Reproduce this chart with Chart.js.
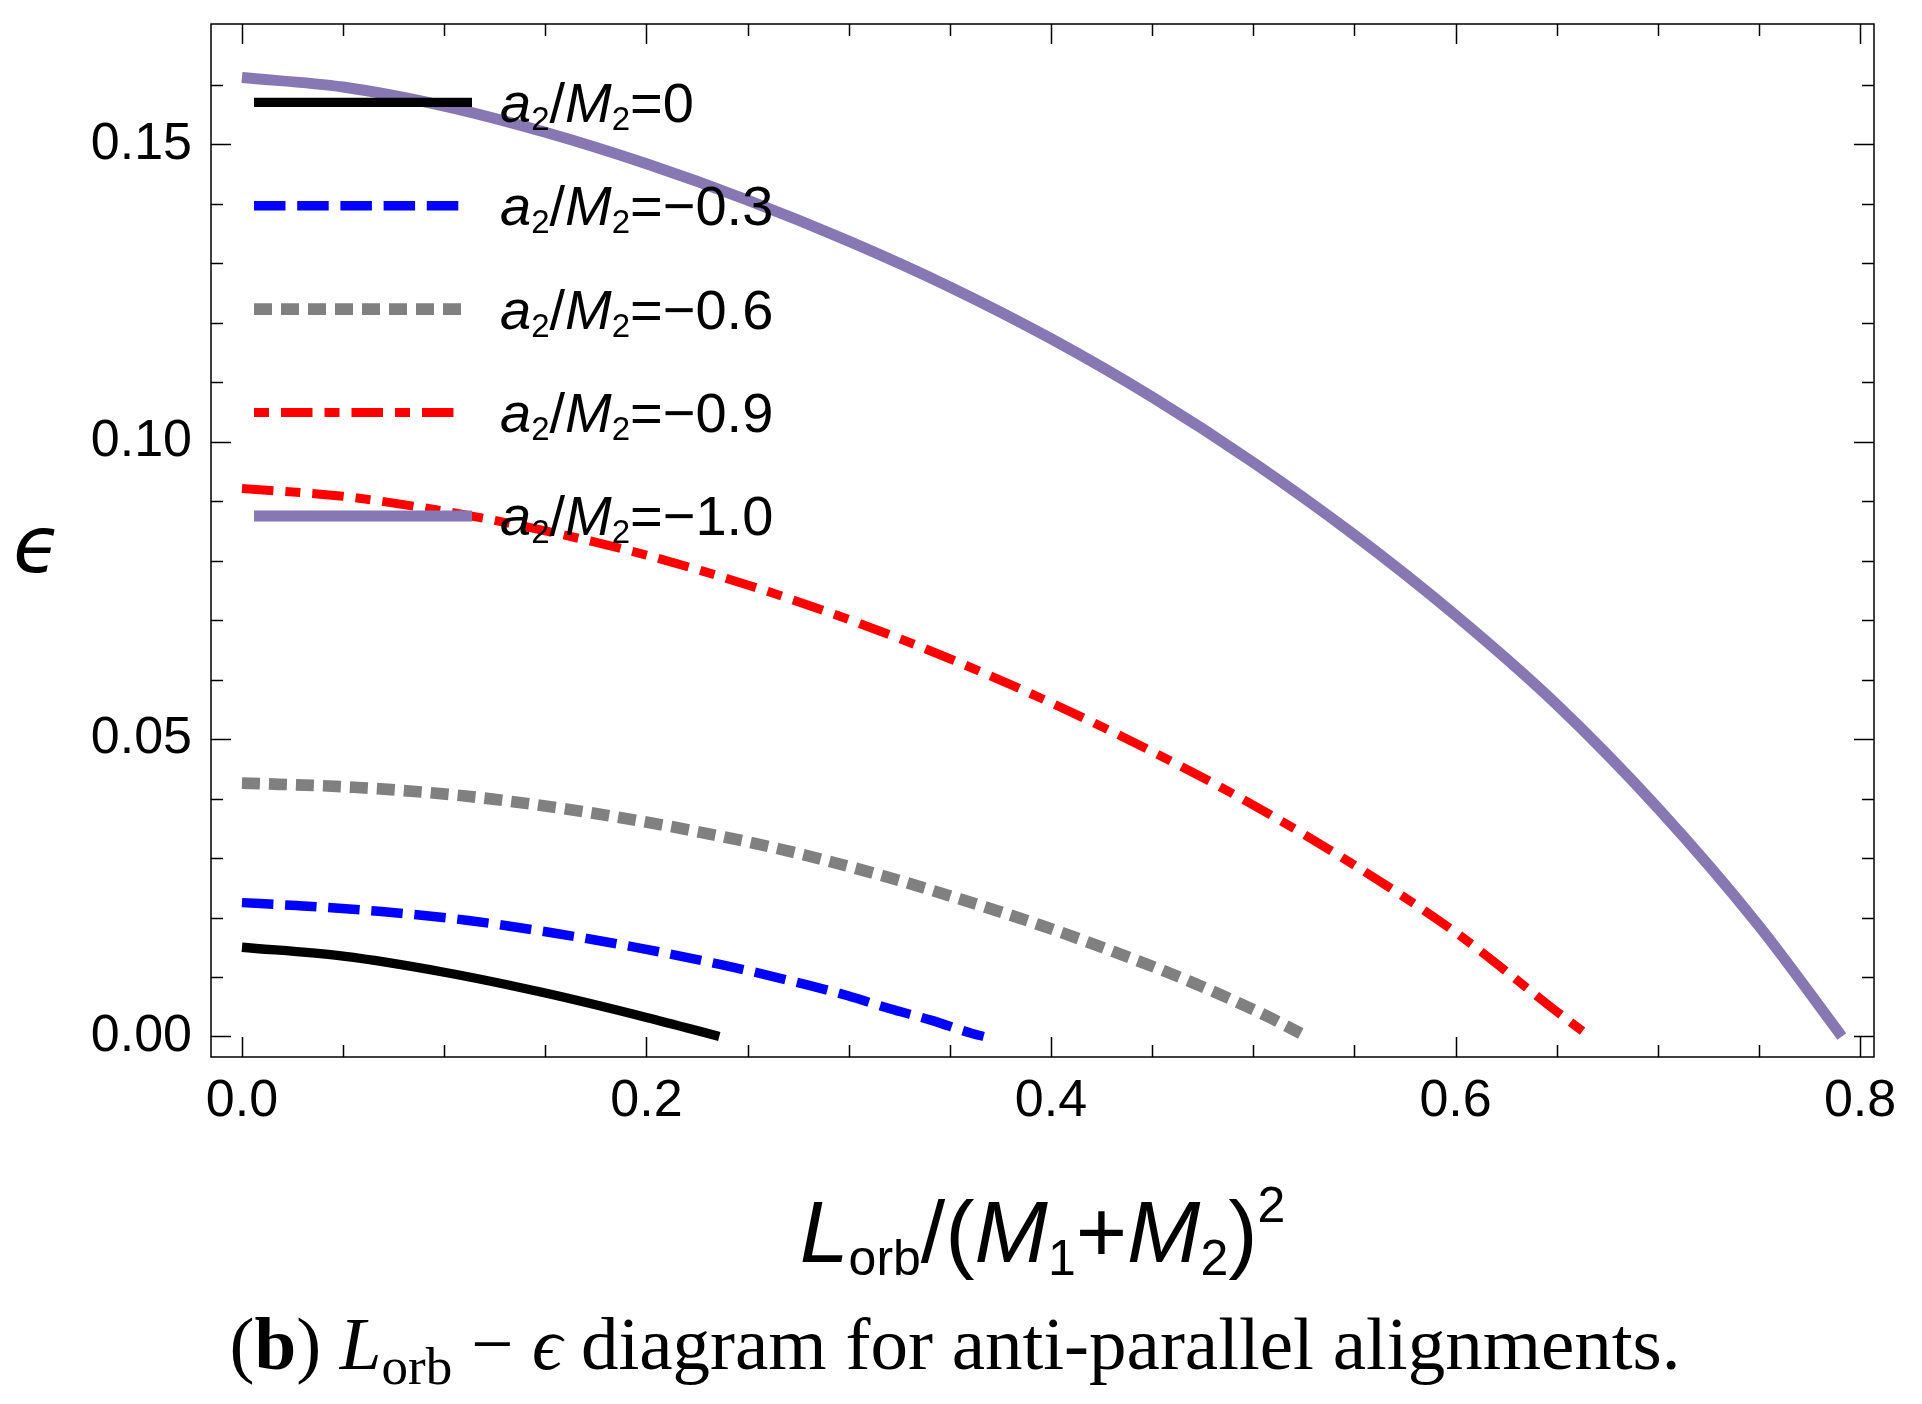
<!DOCTYPE html>
<html lang="en">
<head>
    <meta charset="UTF-8">
    <title>L_orb - epsilon diagram, anti-parallel</title>
    <style>
        html, body {
            margin: 0;
            padding: 0;
            background: #ffffff;
        }
        #wrap {
            width: 1922px;
            height: 1404px;
            position: relative;
        }
    </style>
    <script src="https://cdn.jsdelivr.net/npm/chart.js"></script>
</head>
<body>

<div id="wrap">
    <canvas id="myChart"></canvas>
</div>

<script>
    // --- data ---
    const spinLabels = ['0', '\u22120.3', '\u22120.6', '\u22120.9', '\u22121.0'];

    const xSpin0 = [0, 0.05, 0.1, 0.15, 0.2, 0.236];
    const ySpin0 = [0.0150, 0.0135, 0.0108, 0.0073, 0.0032, 0];

    const xSpin03 = [0, 0.027, 0.069, 0.112, 0.154, 0.196, 0.238, 0.279, 0.300, 0.320, 0.341, 0.361, 0.3667];
    const ySpin03 = [0.0225, 0.0220, 0.0210, 0.0195, 0.0174, 0.0149, 0.0120, 0.0087, 0.0068, 0.0047, 0.0027, 0.0005, 0];

    const xSpin06 = [0, 0.055, 0.108, 0.161, 0.2135, 0.266, 0.317, 0.356, 0.394, 0.4315, 0.469, 0.5057, 0.5235];
    const ySpin06 = [0.0426, 0.0419, 0.0405, 0.0382, 0.0352, 0.0315, 0.0270, 0.0230, 0.0188, 0.0142, 0.0092, 0.0036, 0.0005];

    const xSpin09 = [0, 0.05, 0.1, 0.15, 0.2, 0.25, 0.3, 0.35, 0.4, 0.45, 0.5, 0.55, 0.6, 0.65, 0.6663];
    const ySpin09 = [0.0921, 0.0908, 0.0883, 0.0850, 0.0809, 0.0759, 0.0701, 0.0635, 0.0561, 0.0479, 0.0389, 0.0288, 0.0175, 0.0042, 0];

    const xSpin10 = [0, 0.05, 0.1, 0.15, 0.2, 0.25, 0.3, 0.35, 0.4, 0.45, 0.5, 0.55, 0.6, 0.65, 0.7, 0.75, 0.791];
    const ySpin10 = [0.1612, 0.1596, 0.1564, 0.1520, 0.1467, 0.1406, 0.1337, 0.1260, 0.1173, 0.1075, 0.0965, 0.0843, 0.0708, 0.0558, 0.0384, 0.0186, 0];

    const xMajorTicks = [0, 0.2, 0.4, 0.6, 0.8];
    const xTickLabels = ['0.0', '0.2', '0.4', '0.6', '0.8'];
    const xMinorTicks = [0.05, 0.1, 0.15, 0.25, 0.3, 0.35, 0.45, 0.5, 0.55, 0.65, 0.7, 0.75];
    const yMajorTicks = [0, 0.05, 0.1, 0.15];
    const yTickLabels = ['0.00', '0.05', '0.10', '0.15'];
    const yMinorTicks = [0.01, 0.02, 0.03, 0.04, 0.06, 0.07, 0.08, 0.09, 0.11, 0.12, 0.13, 0.14, 0.16];

    // --- styles ---
    const SANS = '"Liberation Sans", Arial, Helvetica, sans-serif';
    const SERIF = '"Liberation Serif", "DejaVu Serif", "Times New Roman", serif';

    const seriesX = [xSpin0, xSpin03, xSpin06, xSpin09, xSpin10];
    const seriesY = [ySpin0, ySpin03, ySpin06, ySpin09, ySpin10];
    const colors = ['#000000', '#0000ff', '#808080', '#ff0000', '#8778b3'];
    const widths = [9.3, 9.5, 11.7, 9, 11];
    const dashes = [[], [31.5, 11.7], [18, 9], [31.5, 12, 15, 12], []];
    const legendDashOffset = [0, 0, 0, 43.5, 0];
    const legendEnd = [472, 459, 461, 453.5, 472];

    // draw a row of text pieces (for sub/superscripts)
    function drawParts(ctx, parts, x, y, align) {
        let total = 0;
        parts.forEach(p => {
            ctx.font = p.f;
            p.w = ctx.measureText(p.t).width;
            total += p.w;
        });
        let cx = x;
        if (align === 'center') cx = x - total / 2;
        ctx.textAlign = 'left';
        ctx.textBaseline = 'alphabetic';
        parts.forEach(p => {
            ctx.font = p.f;
            ctx.fillText(p.t, cx, y + (p.dy || 0));
            cx += p.w;
        });
        return total;
    }

    const framePlugin = {
        id: 'frame',
        afterDatasetsDraw(chart) {
            const {ctx, chartArea: a, scales: {x, y}} = chart;
            ctx.save();
            ctx.strokeStyle = '#000';
            ctx.lineWidth = 1.5;
            ctx.setLineDash([]);
            ctx.strokeRect(a.left, a.top, a.right - a.left, a.bottom - a.top);

            ctx.beginPath();
            const xt = (vals, len) => vals.forEach(v => {
                const px = Math.round(x.getPixelForValue(v)) + 0.5;
                ctx.moveTo(px, a.bottom); ctx.lineTo(px, a.bottom - len);
                ctx.moveTo(px, a.top); ctx.lineTo(px, a.top + len);
            });
            const yt = (vals, len) => vals.forEach(v => {
                const py = Math.round(y.getPixelForValue(v)) + 0.5;
                ctx.moveTo(a.left, py); ctx.lineTo(a.left + len, py);
                ctx.moveTo(a.right, py); ctx.lineTo(a.right - len, py);
            });
            xt(xMajorTicks, 20); xt(xMinorTicks, 12);
            yt(yMajorTicks, 20); yt(yMinorTicks, 12);
            ctx.stroke();

            // legend inside the frame, top left
            const it = 'italic 56px ' + SANS, up = '56px ' + SANS, sub = '33px ' + SANS;
            spinLabels.forEach((lab, i) => {
                const ly = 102.3 + i * 103.4;
                ctx.strokeStyle = colors[i];
                ctx.lineWidth = widths[i];
                ctx.lineCap = 'butt';
                ctx.setLineDash(dashes[i]);
                ctx.lineDashOffset = legendDashOffset[i];
                ctx.beginPath();
                ctx.moveTo(254, ly);
                ctx.lineTo(legendEnd[i], ly);
                ctx.stroke();
                ctx.fillStyle = '#000';
                drawParts(ctx, [
                    {t: 'a', f: it}, {t: '2', f: sub, dy: 8},
                    {t: '/', f: up}, {t: 'M', f: it}, {t: '2', f: sub, dy: 8},
                    {t: '=' + lab, f: up}
                ], 500, ly + 19.5, 'left');
            });
            ctx.restore();
        },
        afterDraw(chart) {
            const {ctx, chartArea: a} = chart;
            ctx.save();
            ctx.fillStyle = '#000';

            // y axis title
            ctx.font = 'italic 78px "DejaVu Sans", ' + SANS;
            ctx.textAlign = 'center';
            ctx.textBaseline = 'middle';
            ctx.fillText('\u03f5', 37, 552);

            // x axis title
            const it = 'italic 88px ' + SANS, up = '88px ' + SANS, sm = '50px ' + SANS;
            drawParts(ctx, [
                {t: 'L', f: it}, {t: 'orb', f: sm, dy: 13.5}, {t: '/', f: up},
                {t: '(', f: up}, {t: 'M', f: it}, {t: '1', f: sm, dy: 13.5},
                {t: '+', f: up}, {t: 'M', f: it}, {t: '2', f: sm, dy: 13.5},
                {t: ')', f: up}, {t: '2', f: sm, dy: -40}
            ], (a.left + a.right) / 2, 1261.5, 'center');

            // caption
            const s = 75;
            drawParts(ctx, [
                {t: '(', f: s + 'px ' + SERIF}, {t: 'b', f: 'bold ' + s + 'px ' + SERIF},
                {t: ') ', f: s + 'px ' + SERIF}, {t: 'L', f: 'italic ' + s + 'px ' + SERIF},
                {t: 'orb', f: Math.round(s * 0.7) + 'px ' + SERIF, dy: 15},
                {t: ' \u2212 ', f: s + 'px ' + SERIF}, {t: '\u03f5', f: 'italic ' + s + 'px ' + SERIF},
                {t: ' diagram for anti-parallel alignments.', f: s + 'px ' + SERIF}
            ], 955, 1369, 'center');
            ctx.restore();
        }
    };

    const datasets = seriesX.map((xs, i) => ({
        label: 'a2/M2=' + spinLabels[i],
        data: xs.map((v, k) => ({x: v, y: seriesY[i][k]})),
        borderColor: colors[i],
        backgroundColor: colors[i],
        borderWidth: widths[i],
        borderDash: dashes[i],
        borderCapStyle: 'butt',
        borderJoinStyle: 'round',
        cubicInterpolationMode: 'monotone',
        pointRadius: 0,
        fill: false
    })).reverse();

    // drop the half-label padding chart.js adds around the axes
    const noPad = s => { s.paddingTop = 0; s.paddingBottom = 0; s.paddingLeft = 0; s.paddingRight = 0; };

    new Chart(document.getElementById('myChart').getContext('2d'), {
        type: 'line',
        data: {datasets: datasets},
        options: {
            responsive: true,
            maintainAspectRatio: false,
            animation: false,
            layout: {padding: {left: 0, right: 48, top: 24, bottom: 0}},
            plugins: {
                legend: {display: false},
                tooltip: {enabled: false}
            },
            scales: {
                x: {
                    type: 'linear',
                    min: -0.0153,
                    max: 0.8069,
                    grid: {display: false, drawTicks: false},
                    border: {display: false},
                    afterBuildTicks: s => { s.ticks = xMajorTicks.map(v => ({value: v})); },
                    afterFit: s => { s.height = 347; noPad(s); },
                    ticks: {
                        padding: 13,
                        autoSkip: false,
                        maxRotation: 0,
                        color: '#000',
                        font: {family: SANS, size: 52},
                        callback: (v, i) => xTickLabels[i]
                    }
                },
                y: {
                    type: 'linear',
                    min: -0.00345,
                    max: 0.1702,
                    grid: {display: false, drawTicks: false},
                    border: {display: false},
                    afterBuildTicks: s => { s.ticks = yMajorTicks.map(v => ({value: v})); },
                    afterFit: s => { s.width = 211; noPad(s); },
                    ticks: {
                        padding: 19,
                        autoSkip: false,
                        color: '#000',
                        font: {family: SANS, size: 52},
                        callback: (v, i) => yTickLabels[i]
                    }
                }
            }
        },
        plugins: [framePlugin]
    });
</script>

</body>
</html>
